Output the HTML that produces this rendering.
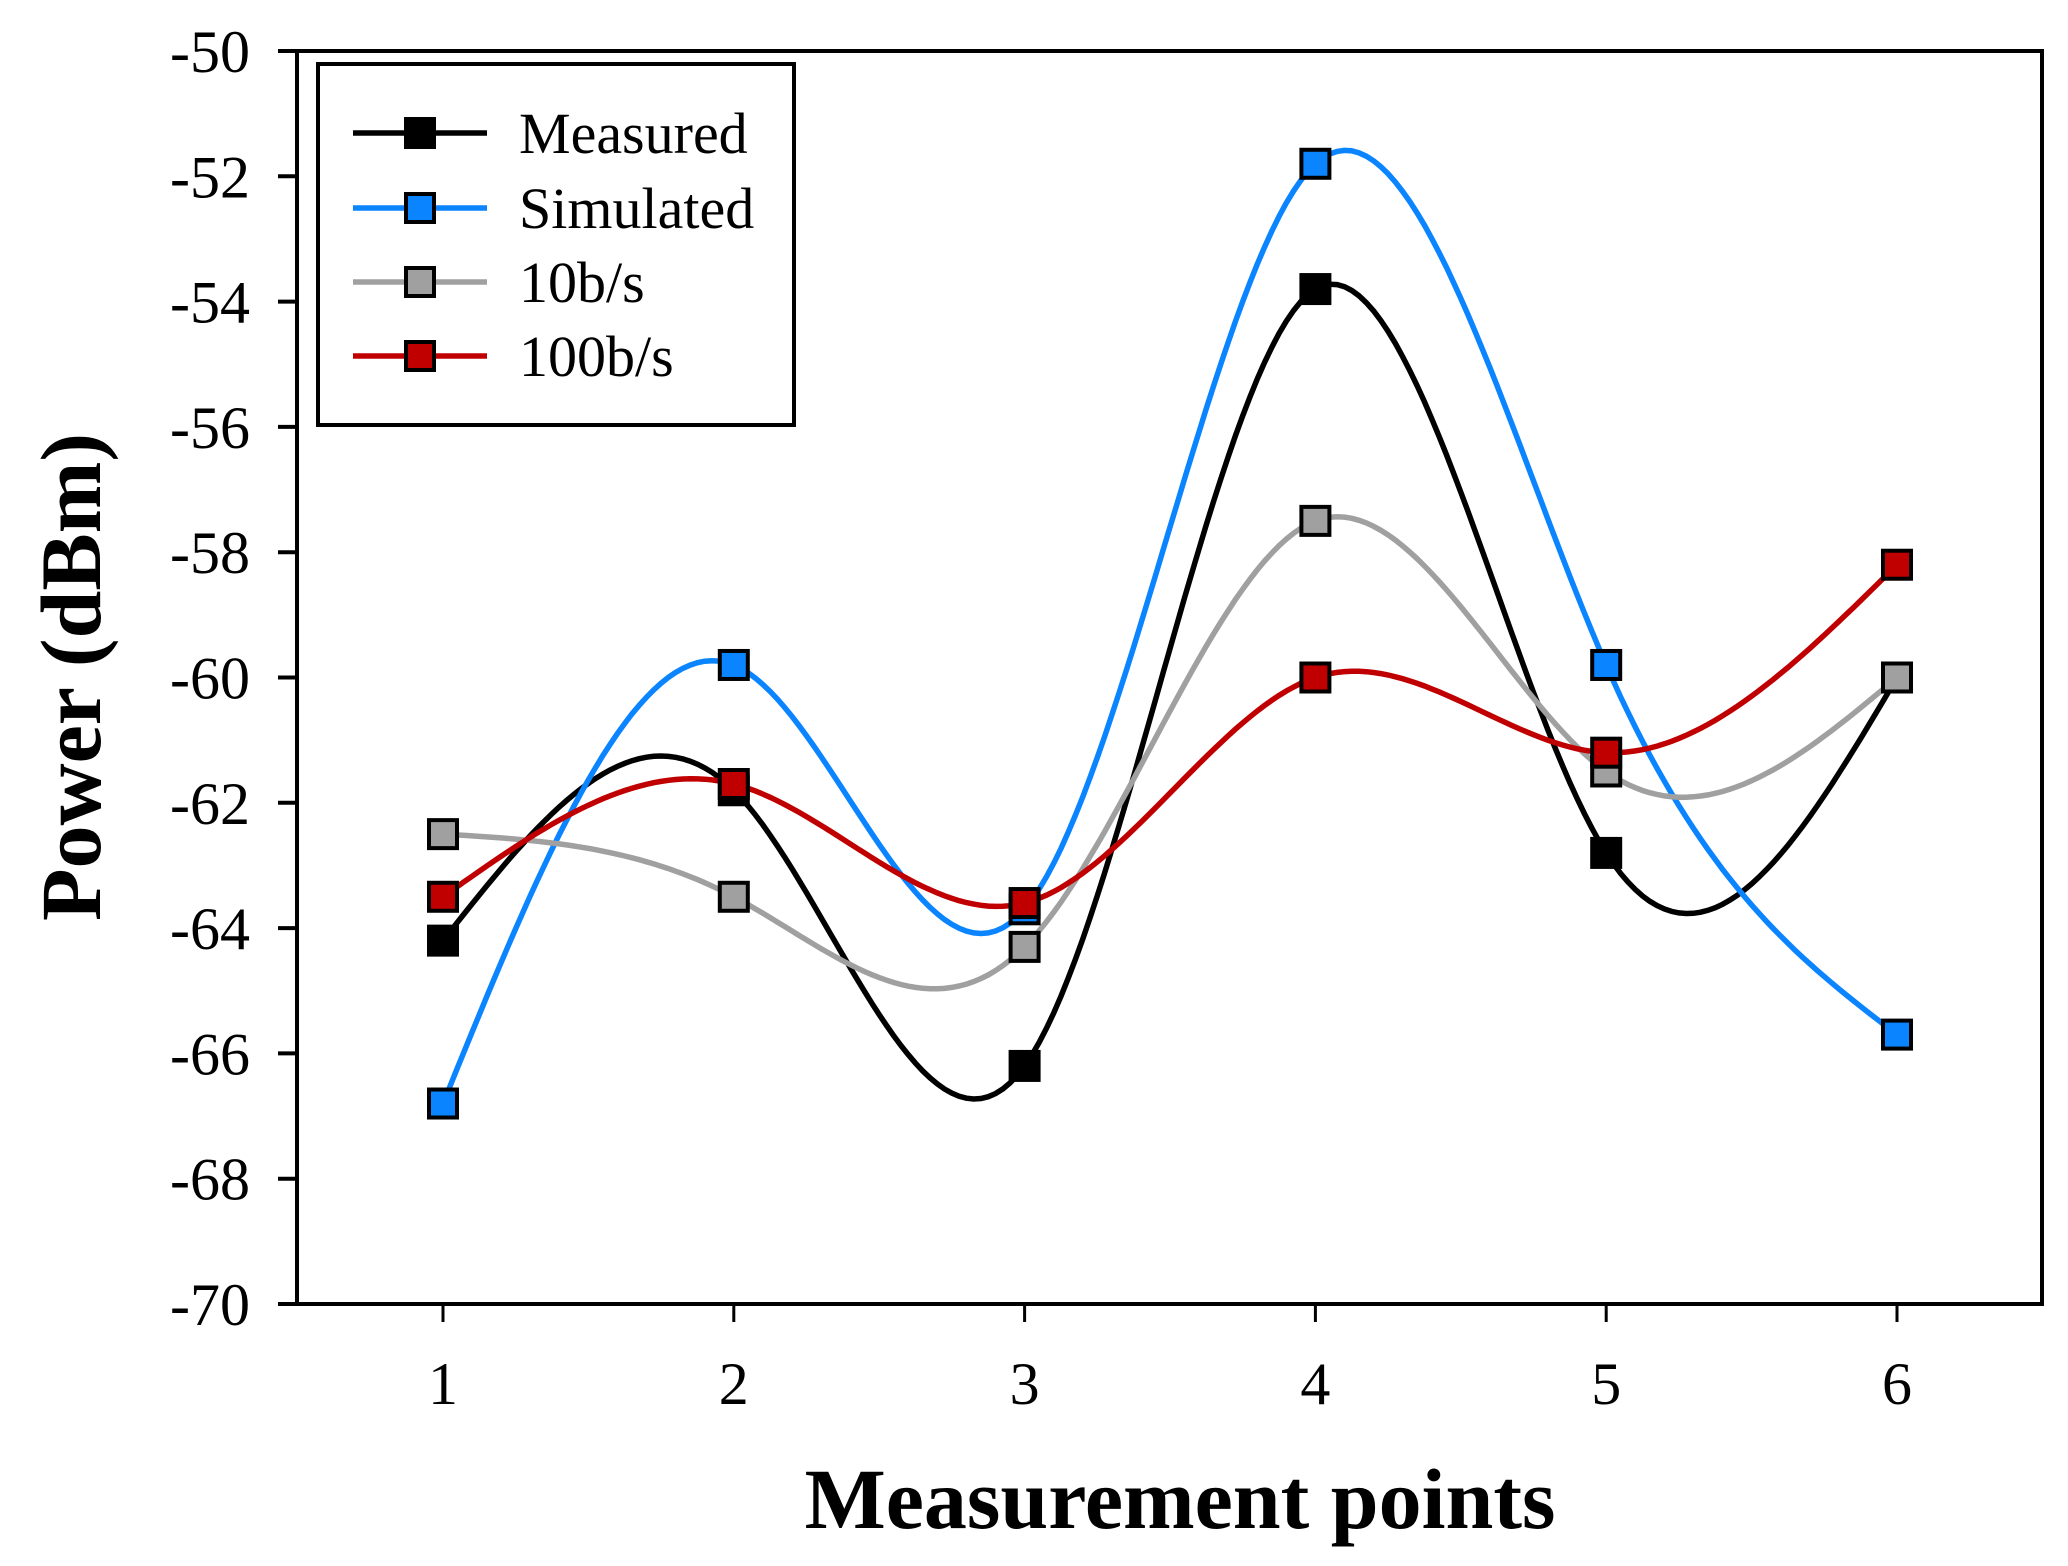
<!DOCTYPE html>
<html><head><meta charset="utf-8"><style>
html,body{margin:0;padding:0;background:#fff}
svg{display:block}
text{font-family:"Liberation Serif",serif;fill:#000}
</style></head><body>
<svg id="chart" width="2068" height="1566" viewBox="0 0 2068 1566">
<g id="plot"></g>
</svg>
<script>
const categories = [1, 2, 3, 4, 5, 6];
const measured = [-64.2, -61.8, -66.2, -53.8, -62.8, -60.0];
const simulated = [-66.8, -59.8, -63.7, -51.8, -59.8, -65.7];
const rate10 = [-62.5, -63.5, -64.3, -57.5, -61.5, -60.0];
const rate100 = [-63.5, -61.7, -63.6, -60.0, -61.2, -58.2];
const seriesNames = ["Measured", "Simulated", "10b/s", "100b/s"];
const yTicks = [-50, -52, -54, -56, -58, -60, -62, -64, -66, -68, -70];

const NS = "http://www.w3.org/2000/svg";
const L = 297, R = 2042, T = 51, B = 1304;
const X0 = 443, X1 = 1897;
function xs(v) { return X0 + (v - 1) * (X1 - X0) / 5; }
function ys(v) { return T + (-50 - v) * (B - T) / 20; }
const g = document.getElementById('plot');
function mk(tag, attrs, parent) {
  const e = document.createElementNS(NS, tag);
  for (const k in attrs) e.setAttribute(k, attrs[k]);
  (parent || g).appendChild(e);
  return e;
}
const frame = mk('rect', {x: L, y: T, width: R - L, height: B - T, fill: 'none', stroke: '#000', 'stroke-width': 4});


yTicks.forEach(v => {
  const t = mk('line', {x1: 278, x2: L, y1: ys(v), y2: ys(v), stroke: '#000', 'stroke-width': 4});
  
  
  const lb = mk('text', {x: 250, y: ys(v) + 21, 'font-size': 60, 'text-anchor': 'end'});
  lb.textContent = v;
  
  
});
categories.forEach(c => {
  const t = mk('line', {x1: xs(c), x2: xs(c), y1: B, y2: 1322, stroke: '#000', 'stroke-width': 3});
  
  
  const lb = mk('text', {x: xs(c), y: 1404, 'font-size': 60, 'text-anchor': 'middle'});
  lb.textContent = c;
  
  
});
const xt = mk('text', {x: 1180, y: 1528, 'font-size': 86, 'font-weight': 'bold', 'text-anchor': 'middle'});
xt.textContent = 'Measurement points';


const yt = mk('text', {x: 0, y: 0, 'font-size': 86, 'font-weight': 'bold', 'text-anchor': 'middle', transform: 'translate(100,677) rotate(-90)'});
yt.textContent = 'Power (dBm)';



function spline(xv, yv) {
  const n = xv.length, h = [], al = [0], l = [1], mu = [0], z = [0], c = new Array(n).fill(0), b = [], d = [];
  for (let i = 0; i < n - 1; i++) h.push(xv[i + 1] - xv[i]);
  for (let i = 1; i < n - 1; i++) al.push(3 / h[i] * (yv[i + 1] - yv[i]) - 3 / h[i - 1] * (yv[i] - yv[i - 1]));
  for (let i = 1; i < n - 1; i++) {
    l[i] = 2 * (xv[i + 1] - xv[i - 1]) - h[i - 1] * mu[i - 1];
    mu[i] = h[i] / l[i];
    z[i] = (al[i] - h[i - 1] * z[i - 1]) / l[i];
  }
  l[n - 1] = 1; z[n - 1] = 0;
  for (let j = n - 2; j >= 0; j--) {
    c[j] = z[j] - mu[j] * c[j + 1];
    b[j] = (yv[j + 1] - yv[j]) / h[j] - h[j] * (c[j + 1] + 2 * c[j]) / 3;
    d[j] = (c[j + 1] - c[j]) / (3 * h[j]);
  }
  const pts = [];
  for (let j = 0; j < n - 1; j++) {
    for (let s = 0; s <= 40; s++) {
      const t = s / 40 * h[j];
      pts.push([xv[j] + t, yv[j] + b[j] * t + c[j] * t * t + d[j] * t * t * t]);
    }
  }
  return pts;
}
const allSeries = [measured, simulated, rate10, rate100];
const lineColors = ['#000000', '#0a84ff', '#a0a0a0', '#c00000'];
const fillColors = ['#000000', '#0a84ff', '#a0a0a0', '#c00000'];
const keys = ['measured', 'simulated', '10bs', '100bs'];
allSeries.forEach((s, i) => {
  const pts = spline(categories, s);
  const p = mk('path', {d: 'M' + pts.map(q => xs(q[0]).toFixed(1) + ',' + ys(q[1]).toFixed(1)).join('L'), fill: 'none', stroke: lineColors[i], 'stroke-width': 5.5});
  
  
});
allSeries.forEach((s, i) => {
  s.forEach((v, k) => {
    const m = mk('rect', {x: xs(categories[k]) - 14, y: ys(v) - 14, width: 28, height: 28, fill: fillColors[i], stroke: '#000', 'stroke-width': 4});
    
    
  });
});
const lg = mk('g', {});


mk('rect', {x: 318, y: 64, width: 476, height: 361, fill: '#fff', stroke: '#000', 'stroke-width': 4}, lg);
const rowY = [133, 208, 282, 356];
seriesNames.forEach((nm, i) => {
  const e = mk('g', {}, lg);
  
  
  mk('line', {x1: 353, x2: 487, y1: rowY[i], y2: rowY[i], stroke: lineColors[i], 'stroke-width': 5.5}, e);
  mk('rect', {x: 406, y: rowY[i] - 14, width: 28, height: 28, fill: fillColors[i], stroke: '#000', 'stroke-width': 4}, e);
  const t = mk('text', {x: 519, y: rowY[i] + 20, 'font-size': 58}, e);
  t.textContent = nm;
});
</script>
</body></html>
